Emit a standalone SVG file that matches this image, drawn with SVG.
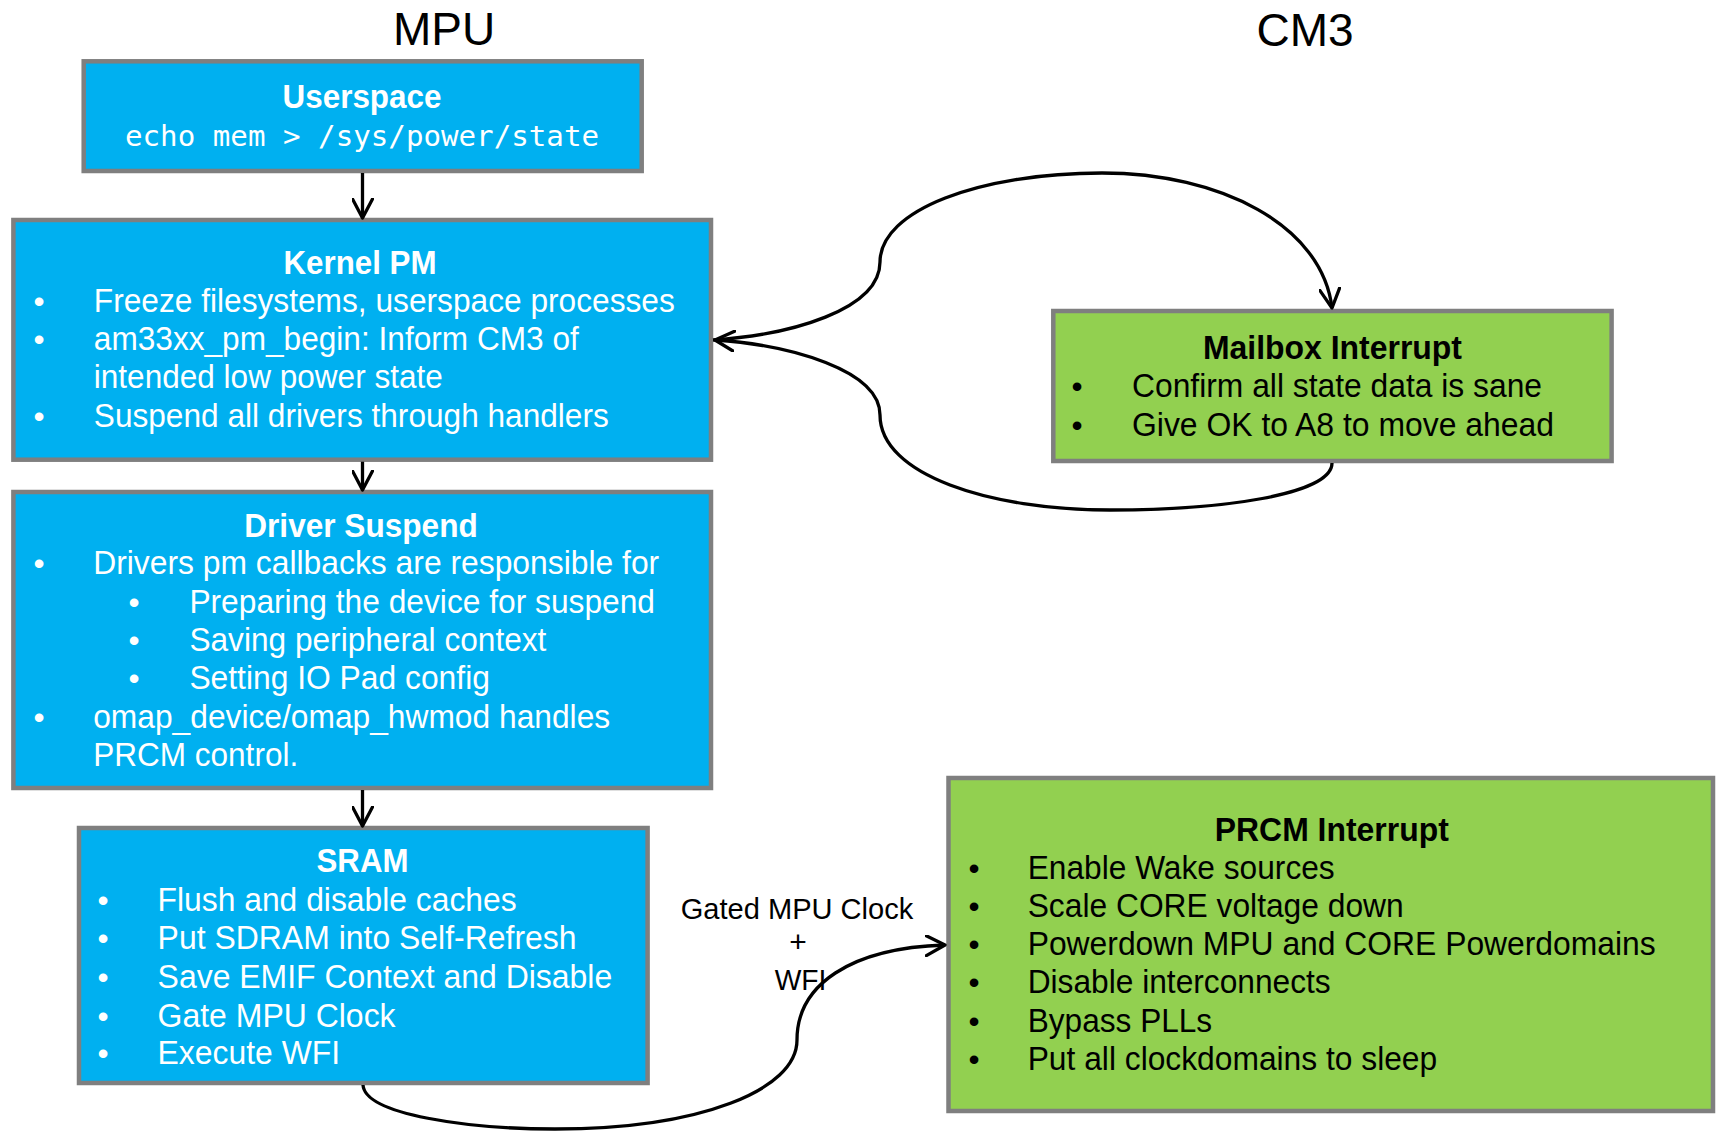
<svg xmlns="http://www.w3.org/2000/svg" width="1716" height="1132" viewBox="0 0 1716 1132">
  <defs>
    <style>
      .box { stroke: #7F7F7F; stroke-width: 4.5; }
      .blue { fill: #00B0F0; }
      .green { fill: #92D050; }
      .t { font-family: "Liberation Sans", Arial, sans-serif; font-size: 33.5px; }
      .title { font-weight: bold; text-anchor: middle; font-size: 32.5px; }
      .w { fill: #FFFFFF; }
      .k { fill: #000000; }
      .b { text-anchor: middle; font-size: 31.7px; }
      .mono { font-family: "DejaVu Sans Mono", "Liberation Mono", monospace; font-size: 29px; text-anchor: middle; }
      .head { font-family: "Liberation Sans", Arial, sans-serif; font-size: 46px; text-anchor: middle; fill: #000; }
      .lbl { font-family: "Liberation Sans", Arial, sans-serif; font-size: 30px; text-anchor: middle; fill: #000; }
      .conn { fill: none; stroke: #000; stroke-width: 3.3; }
    </style>
    <marker id="arrow" viewBox="0 0 22 22" refX="20" refY="11" markerWidth="22" markerHeight="22" markerUnits="userSpaceOnUse" orient="auto">
      <path d="M1,1 L20,11 L1,21" fill="none" stroke="#000" stroke-width="3.3" stroke-linejoin="round" stroke-linecap="round"/>
    </marker>
  </defs>

  <rect x="0" y="0" width="1716" height="1132" fill="#FFFFFF"/>

  <!-- column headings -->
  <text class="head" x="444" y="45">MPU</text>
  <text class="head" x="1305" y="46">CM3</text>

  <!-- MPU side -->
  <g id="userspace">
    <rect class="box blue" x="83.7" y="61.3" width="558" height="109.7"/>
    <text class="t title w" x="362" y="108.3" textLength="159" lengthAdjust="spacingAndGlyphs">Userspace</text>
    <text class="mono w" x="362" y="145.7" textLength="474" lengthAdjust="spacingAndGlyphs">echo mem &gt; /sys/power/state</text>
  </g>

  <g id="kernel-pm">
    <rect class="box blue" x="13.4" y="220" width="697.6" height="239.7"/>
    <text class="t title w" x="360" y="274" textLength="153" lengthAdjust="spacingAndGlyphs">Kernel PM</text>
    <text class="t w b" x="39" y="311.7">•</text>
    <text class="t w" x="93.8" y="311.7" textLength="581" lengthAdjust="spacingAndGlyphs">Freeze filesystems, userspace processes</text>
    <text class="t w b" x="39" y="350">•</text>
    <text class="t w" x="93.8" y="350" textLength="485" lengthAdjust="spacingAndGlyphs">am33xx_pm_begin: Inform CM3 of</text>
    <text class="t w" x="93.8" y="388.3" textLength="349" lengthAdjust="spacingAndGlyphs">intended low power state</text>
    <text class="t w b" x="39" y="426.7">•</text>
    <text class="t w" x="93.8" y="426.7" textLength="515" lengthAdjust="spacingAndGlyphs">Suspend all drivers through handlers</text>
  </g>

  <g id="driver-suspend">
    <rect class="box blue" x="13.4" y="492" width="697.6" height="296"/>
    <text class="t title w" x="361" y="536.7" textLength="233.5" lengthAdjust="spacingAndGlyphs">Driver Suspend</text>
    <text class="t w b" x="39" y="574">•</text>
    <text class="t w" x="93.2" y="574" textLength="566" lengthAdjust="spacingAndGlyphs">Drivers pm callbacks are responsible for</text>
    <text class="t w b" x="134" y="613.3">•</text>
    <text class="t w" x="189.4" y="613.3" textLength="465.6" lengthAdjust="spacingAndGlyphs">Preparing the device for suspend</text>
    <text class="t w b" x="134" y="651">•</text>
    <text class="t w" x="189.4" y="651" textLength="357" lengthAdjust="spacingAndGlyphs">Saving peripheral context</text>
    <text class="t w b" x="134" y="689.3">•</text>
    <text class="t w" x="189.4" y="689.3" textLength="300.5" lengthAdjust="spacingAndGlyphs">Setting IO Pad config</text>
    <text class="t w b" x="39" y="728.3">•</text>
    <text class="t w" x="93.2" y="728.3" textLength="517" lengthAdjust="spacingAndGlyphs">omap_device/omap_hwmod handles</text>
    <text class="t w" x="93.2" y="766" textLength="205" lengthAdjust="spacingAndGlyphs">PRCM control.</text>
  </g>

  <g id="sram">
    <rect class="box blue" x="79" y="828" width="568.6" height="255"/>
    <text class="t title w" x="362.5" y="872" textLength="92" lengthAdjust="spacingAndGlyphs">SRAM</text>
    <text class="t w b" x="103" y="911">•</text>
    <text class="t w" x="157.6" y="911" textLength="359" lengthAdjust="spacingAndGlyphs">Flush and disable caches</text>
    <text class="t w b" x="103" y="949">•</text>
    <text class="t w" x="157.6" y="949" textLength="419" lengthAdjust="spacingAndGlyphs">Put SDRAM into Self-Refresh</text>
    <text class="t w b" x="103" y="988">•</text>
    <text class="t w" x="157.6" y="988" textLength="454.6" lengthAdjust="spacingAndGlyphs">Save EMIF Context and Disable</text>
    <text class="t w b" x="103" y="1026.7">•</text>
    <text class="t w" x="157.6" y="1026.7" textLength="238" lengthAdjust="spacingAndGlyphs">Gate MPU Clock</text>
    <text class="t w b" x="103" y="1064">•</text>
    <text class="t w" x="157.6" y="1064" textLength="182.5" lengthAdjust="spacingAndGlyphs">Execute WFI</text>
  </g>

  <!-- CM3 side -->
  <g id="mailbox-interrupt">
    <rect class="box green" x="1053.3" y="311" width="558.3" height="150"/>
    <text class="t title k" x="1332.5" y="359.3" textLength="259" lengthAdjust="spacingAndGlyphs">Mailbox Interrupt</text>
    <text class="t k b" x="1077" y="397.3">•</text>
    <text class="t k" x="1132" y="397.3" textLength="410" lengthAdjust="spacingAndGlyphs">Confirm all state data is sane</text>
    <text class="t k b" x="1077" y="435.7">•</text>
    <text class="t k" x="1132" y="435.7" textLength="422" lengthAdjust="spacingAndGlyphs">Give OK to A8 to move ahead</text>
  </g>

  <g id="prcm-interrupt">
    <rect class="box green" x="948.5" y="778" width="764.5" height="333"/>
    <text class="t title k" x="1331.8" y="841" textLength="234" lengthAdjust="spacingAndGlyphs">PRCM Interrupt</text>
    <text class="t k b" x="974" y="879">•</text>
    <text class="t k" x="1027.7" y="879" textLength="307" lengthAdjust="spacingAndGlyphs">Enable Wake sources</text>
    <text class="t k b" x="974" y="916.7">•</text>
    <text class="t k" x="1027.7" y="916.7" textLength="376" lengthAdjust="spacingAndGlyphs">Scale CORE voltage down</text>
    <text class="t k b" x="974" y="955">•</text>
    <text class="t k" x="1027.7" y="955" textLength="628" lengthAdjust="spacingAndGlyphs">Powerdown MPU and CORE Powerdomains</text>
    <text class="t k b" x="974" y="993">•</text>
    <text class="t k" x="1027.7" y="993" textLength="303" lengthAdjust="spacingAndGlyphs">Disable interconnects</text>
    <text class="t k b" x="974" y="1031.7">•</text>
    <text class="t k" x="1027.7" y="1031.7" textLength="184.5" lengthAdjust="spacingAndGlyphs">Bypass PLLs</text>
    <text class="t k b" x="974" y="1070">•</text>
    <text class="t k" x="1027.7" y="1070" textLength="409.5" lengthAdjust="spacingAndGlyphs">Put all clockdomains to sleep</text>
  </g>

  <!-- connectors -->
  <g id="connectors">
    <path class="conn" d="M362.5,173 L362.5,218" marker-end="url(#arrow)"/>
    <path class="conn" d="M362.5,461.7 L362.5,490" marker-end="url(#arrow)"/>
    <path class="conn" d="M362.5,790 L362.5,826" marker-end="url(#arrow)"/>
    <!-- Kernel PM to Mailbox, upper arc -->
    <path class="conn" d="M713,340 C790,335 880,310 880,262 C880,210 980,173 1102,173 C1220,173 1322,225 1332,308" marker-end="url(#arrow)"/>
    <!-- Mailbox back to Kernel PM, lower arc -->
    <path class="conn" d="M1332,463 C1332,495 1220,510 1110,510 C990,510 880,475 880,415 C880,370 790,345 715,340" marker-end="url(#arrow)"/>
    <!-- SRAM to PRCM -->
    <path class="conn" d="M363,1085 C365,1115 470,1129 555,1129 C700,1129 797,1090 797,1040 C797,985 850,948 945,945" marker-end="url(#arrow)"/>
    <g id="wfi-label">
      <text class="lbl" x="797" y="919" textLength="232.5" lengthAdjust="spacingAndGlyphs">Gated MPU Clock</text>
      <text class="lbl" x="798" y="952">+</text>
      <text class="lbl" x="800.5" y="990" textLength="51.7" lengthAdjust="spacingAndGlyphs">WFI</text>
    </g>
  </g>
</svg>
